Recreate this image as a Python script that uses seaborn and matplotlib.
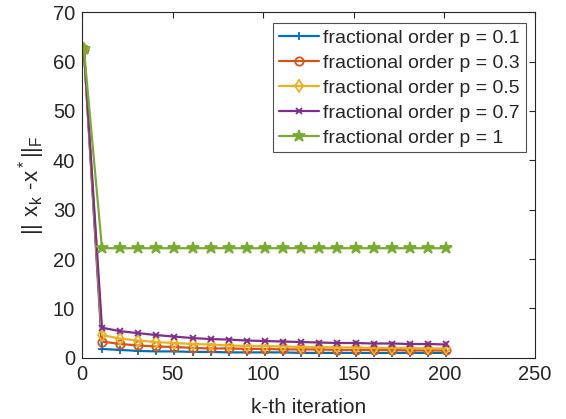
import numpy as np
import matplotlib
matplotlib.use('Agg')
import matplotlib.pyplot as plt
import seaborn as sns

# iteration numbers where markers are shown
iters = [1, 11, 21, 31, 41, 51, 61, 71, 81, 91, 101, 111, 121, 131, 141, 151, 161, 171, 181, 191, 201]

err_p01 = [62.5, 1.8, 1.6, 1.4, 1.3, 1.3, 1.2, 1.2, 1.1, 1.1, 1.1, 1.1, 1.0, 1.0, 1.0, 1.0, 1.0, 1.0, 1.0, 1.0, 1.0]
err_p03 = [62.5, 3.3, 2.8, 2.5, 2.3, 2.2, 2.0, 1.9, 1.9, 1.8, 1.8, 1.7, 1.7, 1.7, 1.6, 1.6, 1.6, 1.6, 1.5, 1.5, 1.5]
err_p05 = [62.5, 4.6, 3.9, 3.5, 3.2, 3.0, 2.8, 2.7, 2.5, 2.4, 2.4, 2.3, 2.2, 2.2, 2.1, 2.1, 2.0, 2.0, 2.0, 1.9, 1.9]
err_p07 = [62.5, 6.1, 5.4, 5.0, 4.6, 4.3, 4.0, 3.8, 3.7, 3.5, 3.4, 3.3, 3.2, 3.1, 3.0, 3.0, 2.9, 2.9, 2.8, 2.8, 2.7]
err_p1 = [62.5, 22.2, 22.2, 22.2, 22.2, 22.2, 22.2, 22.2, 22.2, 22.2, 22.2, 22.2, 22.2, 22.2, 22.2, 22.2, 22.2, 22.2, 22.2, 22.2, 22.2]

labels = ['fractional order p = 0.1', 'fractional order p = 0.3', 'fractional order p = 0.5',
          'fractional order p = 0.7', 'fractional order p = 1']

sns.set_style('white')
plt.rcParams['font.family'] = ['Liberation Sans', 'DejaVu Sans']
plt.rcParams['mathtext.fontset'] = 'custom'
plt.rcParams['mathtext.rm'] = 'Liberation Sans'

# MATLAB default colour order
colors = ['#0072BD', '#D95319', '#EDB120', '#7E2F8E', '#77AC30']
markers = ['+', 'o', 'd', 'x', '*']
msizes = [6, 6, 6, 5, 9]
fills = ['none', 'none', 'none', 'none', '#77AC30']

fig, ax = plt.subplots(figsize=(5.66, 4.19), dpi=100)
fig.subplots_adjust(left=0.145, right=0.945, top=0.971, bottom=0.146)

series = [err_p01, err_p03, err_p05, err_p07, err_p1]
for vals, lab, c, m, ms, fc in zip(series, labels, colors, markers, msizes, fills):
    sns.lineplot(x=iters, y=vals, ax=ax, color=c, marker=m, markersize=ms,
                 markerfacecolor=fc, markeredgecolor=c, markeredgewidth=1.3,
                 linewidth=1.6, label=lab)

ax.set_xlim(0, 250)
ax.set_ylim(0, 70)
ax.set_xticks([0, 50, 100, 150, 200, 250])
ax.set_yticks([0, 10, 20, 30, 40, 50, 60, 70])

axcol = '#262626'
for sp in ax.spines.values():
    sp.set_color(axcol)
    sp.set_linewidth(0.8)
ax.tick_params(direction='in', length=4, width=0.8, colors=axcol, labelsize=14.5,
               top=True, right=True, labelcolor=axcol, pad=5)

ax.set_xlabel('k-th iteration', fontsize=15, color=axcol, labelpad=10)
ax.set_ylabel(r'$\mathregular{||\ x_k\ \text{-}x^*||_F}$', fontsize=16, color=axcol, labelpad=4)

leg = ax.legend(loc='upper right', bbox_to_anchor=(0.98, 0.968), fontsize=14,
                frameon=True, fancybox=False, handlelength=2.1, handletextpad=0.2,
                borderpad=0.3, labelspacing=0.38, borderaxespad=0)
leg.get_frame().set_edgecolor('#262626')
leg.get_frame().set_linewidth(0.8)

fig.savefig('out.png', dpi=100)
